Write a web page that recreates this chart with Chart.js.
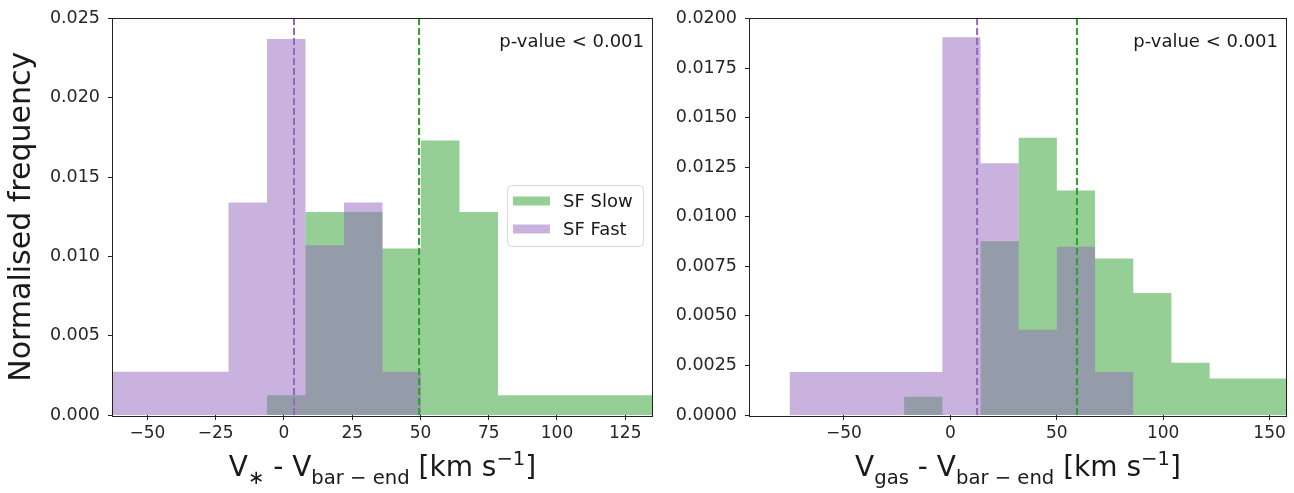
<!DOCTYPE html>
<html><head><meta charset="utf-8">
<script src="https://cdn.jsdelivr.net/npm/chart.js@4.4.1/dist/chart.umd.min.js"></script>
<style>
html,body{margin:0;padding:0;background:#fff;width:1294px;height:493px;overflow:hidden}
canvas{position:absolute;top:0}
#c1{left:0}
#c2{left:660px}
</style></head><body>
<canvas id="c1" width="660" height="493"></canvas>
<canvas id="c2" width="634" height="493"></canvas>
<script>
// ---------- data ----------
// Left panel: V* - Vbar-end
const leftBinEdges = [-62.6, -48.5, -34.4, -20.3, -6.2, 7.9, 22.0, 36.1, 50.2, 64.3, 78.4, 92.5, 106.6, 120.7, 134.8];
const leftSlowFreq = [0, 0, 0, 0, 0.00125, 0.0128, 0.0128, 0.0105, 0.0173, 0.0128, 0.00125, 0.00125, 0.00125, 0.00125];
const leftFastFreq = [0.00272, 0.00272, 0.00272, 0.0134, 0.0237, 0.0107, 0.0134, 0.00272, 0, 0, 0, 0, 0, 0];
const leftMedianSlow = 49.5;
const leftMedianFast = 3.7;
const leftXRange = [-62.6, 134.8];
const leftYMax = 0.025;
const leftXTicks = [-50, -25, 0, 25, 50, 75, 100, 125];
const leftYTicks = [0, 0.005, 0.010, 0.015, 0.020, 0.025];

// Right panel: Vgas - Vbar-end
const rightBinEdges = [-75.5, -57.56, -39.62, -21.68, -3.74, 14.2, 32.14, 50.08, 68.02, 85.96, 103.9, 121.84, 139.78, 157.72];
const rightSlowFreq = [0, 0, 0, 0.00092, 0, 0.00877, 0.01398, 0.01133, 0.00789, 0.00615, 0.00264, 0.00184, 0.00184];
const rightFastFreq = [0.00217, 0.00217, 0.00217, 0.00217, 0.01905, 0.0127, 0.0043, 0.00849, 0.00217, 0, 0, 0, 0];
const rightMedianSlow = 59.5;
const rightMedianFast = 12.6;
const rightXRange = [-94.1, 157.72];
const rightYMax = 0.020;
const rightXTicks = [-50, 0, 50, 100, 150];
const rightYTicks = [0, 0.0025, 0.0050, 0.0075, 0.0100, 0.0125, 0.0150, 0.0175, 0.0200];

const seriesNames = ['SF Slow', 'SF Fast'];
const pValueText = 'p-value < 0.001';
const yAxisTitle = 'Normalised frequency';
// ---------------------------------------------------

const GREEN = 'rgba(44,160,44,0.5)';
const PURPLE = 'rgba(148,103,189,0.5)';
const GREEN_LINE = '#2ca02c';
const PURPLE_LINE = '#9467bd';
const FONT = 'DejaVu Sans';
const TXT = '#1a1a1a';

function steps(edges, vals) {
  const pts = vals.map((v, i) => ({x: edges[i], y: v}));
  pts.push({x: edges[edges.length - 1], y: vals[vals.length - 1]});
  return pts;
}
function minus(v) { return v < 0 ? '\u2212' + Math.abs(v) : String(v); }

function drawMath(ctx, parts, cx, baseline, size) {
  const segs = parts.map(p => {
    const s = p.k === 'n' ? size : size * 0.7;
    ctx.font = s + 'px "' + FONT + '"';
    return {t: p.t, s, k: p.k, w: ctx.measureText(p.t).width};
  });
  const total = segs.reduce((a, b) => a + b.w, 0);
  let x = cx - total / 2;
  ctx.textBaseline = 'alphabetic';
  ctx.textAlign = 'left';
  ctx.fillStyle = TXT;
  for (const g of segs) {
    ctx.font = g.s + 'px "' + FONT + '"';
    const dy = g.k === 'sub' ? size * 0.3 : g.k === 'sup' ? -size * 0.4 : 0;
    ctx.fillText(g.t, x, baseline + dy);
    x += g.w;
  }
}

function makeChart(id, o) {
  const frame = {
    id: 'frame' + id,
    afterDatasetsDraw(chart) {
      const {ctx, chartArea: a} = chart;
      ctx.save();
      ctx.strokeStyle = '#222';
      ctx.lineWidth = 1;
      ctx.strokeRect(Math.round(a.left) - 0.5, Math.round(a.top) - 0.5, Math.round(a.right - a.left) + 1, Math.round(a.bottom - a.top) + 1);
      ctx.restore();
    },
    afterDraw(chart) {
      const {ctx, chartArea: a} = chart;
      ctx.save();
      // p-value text
      ctx.font = '18px "' + FONT + '"';
      ctx.fillStyle = TXT;
      ctx.textAlign = 'right';
      ctx.textBaseline = 'alphabetic';
      ctx.fillText(pValueText, a.right - 8, 47);
      // x title
      drawMath(ctx, o.xTitle, (a.left + a.right) / 2, 476, 28);
      // y title
      if (o.yTitle) {
        ctx.save();
        ctx.translate(22, (a.top + a.bottom) / 2);
        ctx.rotate(-Math.PI / 2);
        ctx.font = '30px "' + FONT + '"';
        ctx.textAlign = 'center';
        ctx.textBaseline = 'middle';
        ctx.fillStyle = TXT;
        ctx.fillText(o.yTitle, 0, 0);
        ctx.restore();
      }
      // legend
      if (o.legend) {
        const L = o.legend;
        ctx.fillStyle = 'rgba(255,255,255,0.8)';
        ctx.strokeStyle = '#d6d6d6';
        ctx.lineWidth = 1;
        ctx.beginPath();
        ctx.roundRect(L.x + 0.5, L.y + 0.5, L.w, L.h, 4);
        ctx.fill();
        ctx.stroke();
        const cols = [GREEN, PURPLE];
        ctx.font = '18px "' + FONT + '"';
        ctx.textAlign = 'left';
        ctx.textBaseline = 'middle';
        seriesNames.forEach((n, i) => {
          const cy = L.y + 16 + i * 28;
          ctx.fillStyle = cols[i];
          ctx.fillRect(L.x + 6, cy - 4.5, 37, 9);
          ctx.fillStyle = TXT;
          ctx.fillText(n, L.x + 56, cy + 1);
        });
      }
      ctx.restore();
    }
  };
  const tickFont = {family: FONT, size: 17};
  return new Chart(document.getElementById(id), {
    type: 'line',
    data: {
      datasets: [
        {data: [{x: o.medFast, y: 0}, {x: o.medFast, y: o.yMax}], borderColor: PURPLE_LINE, borderWidth: 2, borderDash: [7, 3], pointRadius: 0, fill: false, order: 0},
        {data: [{x: o.medSlow, y: 0}, {x: o.medSlow, y: o.yMax}], borderColor: GREEN_LINE, borderWidth: 2, borderDash: [7, 3], pointRadius: 0, fill: false, order: 0},
        {label: seriesNames[1], data: steps(o.edges, o.fast), stepped: true, fill: 'origin', backgroundColor: PURPLE, borderColor: 'transparent', borderWidth: 0, pointRadius: 0, order: 1},
        {label: seriesNames[0], data: steps(o.edges, o.slow), stepped: true, fill: 'origin', backgroundColor: GREEN, borderColor: 'transparent', borderWidth: 0, pointRadius: 0, order: 2}
      ]
    },
    options: {
      responsive: false, animation: false, devicePixelRatio: 1,
      layout: {padding: {top: 16, right: 8, left: 0, bottom: 0}},
      plugins: {legend: {display: false}, tooltip: {enabled: false}},
      scales: {
        x: {
          type: 'linear', min: o.xRange[0], max: o.xRange[1],
          afterBuildTicks: s => { s.ticks = o.xTicks.map(v => ({value: v})); },
          afterFit: s => { s.height = 78; },
          grid: {drawOnChartArea: false, drawTicks: true, tickLength: 5, color: '#222', lineWidth: 1},
          border: {display: false},
          ticks: {font: tickFont, color: '#262626', padding: 3, maxRotation: 0, autoSkip: false, callback: v => minus(v)}
        },
        y: {
          min: 0, max: o.yMax,
          afterBuildTicks: s => { s.ticks = o.yTicks.map(v => ({value: v})); },
          afterFit: s => { s.width = o.yWidth; },
          grid: {drawOnChartArea: false, drawTicks: true, tickLength: 5, color: '#222', lineWidth: 1},
          border: {display: false},
          ticks: {font: {family: FONT, size: 17.5}, color: '#262626', padding: 8, autoSkip: false, callback: v => v.toFixed(o.dec)}
        }
      }
    },
    plugins: [frame]
  });
}

makeChart('c1', {
  edges: leftBinEdges, slow: leftSlowFreq, fast: leftFastFreq,
  medSlow: leftMedianSlow, medFast: leftMedianFast,
  xRange: leftXRange, yMax: leftYMax, xTicks: leftXTicks, yTicks: leftYTicks,
  yWidth: 113, dec: 3, yTitle: yAxisTitle,
  legend: {x: 507, y: 185, w: 136, h: 61},
  xTitle: [{t: 'V', k: 'n'}, {t: '\u2217', k: 'sub'}, {t: ' - V', k: 'n'}, {t: 'bar \u2212 end', k: 'sub'}, {t: ' [km s', k: 'n'}, {t: '\u22121', k: 'sup'}, {t: ']', k: 'n'}]
});
makeChart('c2', {
  edges: rightBinEdges, slow: rightSlowFreq, fast: rightFastFreq,
  medSlow: rightMedianSlow, medFast: rightMedianFast,
  xRange: rightXRange, yMax: rightYMax, xTicks: rightXTicks, yTicks: rightYTicks,
  yWidth: 90, dec: 4, yTitle: null, legend: null,
  xTitle: [{t: 'V', k: 'n'}, {t: 'gas', k: 'sub'}, {t: ' - V', k: 'n'}, {t: 'bar \u2212 end', k: 'sub'}, {t: ' [km s', k: 'n'}, {t: '\u22121', k: 'sup'}, {t: ']', k: 'n'}]
});
</script>
</body></html>
